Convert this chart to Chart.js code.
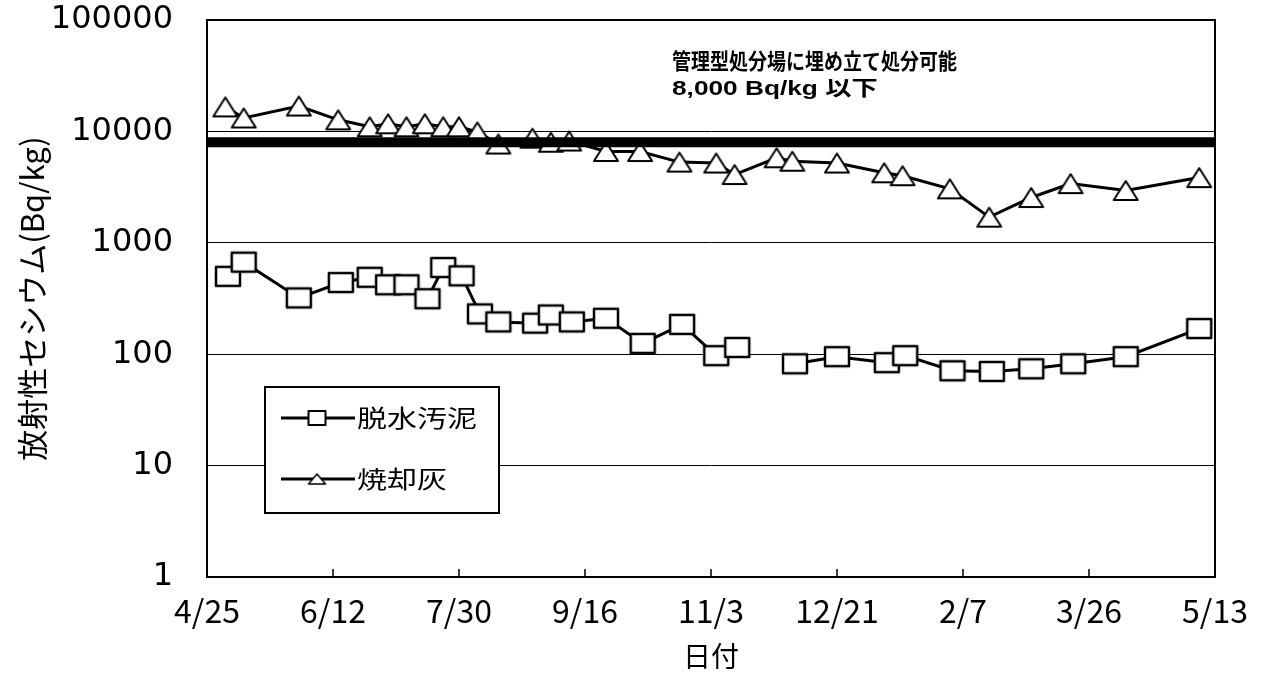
<!DOCTYPE html>
<html>
<head>
<meta charset="utf-8">
<script src="https://cdn.jsdelivr.net/npm/chart.js@4.4.1/dist/chart.umd.min.js"></script>
<style>
  html, body { margin: 0; padding: 0; background: #fff; }
  #wrap { width: 1263px; height: 677px; position: relative; }
</style>
</head>
<body>
<div id="wrap"><canvas id="chart"></canvas></div>
<script>
// x = days since 4/25
const tickDays = [0, 48, 96, 144, 192, 240, 288, 336, 384];
const tickLabels = ['4/25', '6/12', '7/30', '9/16', '11/3', '12/21', '2/7', '3/26', '5/13'];
const yTicks = [1, 10, 100, 1000, 10000, 100000];

// 脱水汚泥 (null = no measurement, line broken)
const sludgeDays = [8, 14, 35, 51, 62, 69, 76, 84, 90, 97, 104, 111, 125, 131, 139, 152, 166, 181, 194, 202, 213, 224, 240, 259, 266, 284, 299, 314, 330, 350, 378];
const sludgeValues = [500, 670, 320, 440, 490, 420, 420, 315, 600, 505, 230, 195, 190, 225, 195, 210, 125, 185, 97, 115, null, 82, 95, 84, 97, 71, 70, 74, 82, 95, 170];

// 焼却灰
const ashDays = [7, 14, 35, 50, 62, 69, 76, 83, 90, 96, 103, 111, 124, 131, 138, 152, 165, 180, 194, 201, 217, 223, 240, 258, 265, 283, 298, 314, 329, 350, 378];
const ashValues = [16600, 13200, 16900, 12700, 11000, 11700, 11000, 11700, 11000, 11000, 9900, 7700, 8700, 8000, 8200, 6600, 6600, 5300, 5200, 4100, 5800, 5400, 5200, 4250, 4000, 3050, 1700, 2550, 3400, 2950, 3850];

// 8,000 Bq/kg limit
const limitDays = [0, 384];
const limitValues = [8000, 8000];
const noteLines = ['管理型処分場に埋め立て処分可能', '8,000 Bq/kg 以下'];

const JP = '"Noto Sans CJK JP", sans-serif';

function makeMarker(shape, w, h, lw) {
    const pad = Math.ceil(lw) + 1;
    const c = document.createElement('canvas');
    c.width = w + pad * 2;
    c.height = h + pad * 2;
    const g = c.getContext('2d');
    g.fillStyle = '#fff';
    g.strokeStyle = '#000';
    g.lineWidth = lw;
    g.lineJoin = 'round';
    g.beginPath();
    if (shape === 'rect') {
        g.rect(pad, pad, w, h);
    } else {
        g.moveTo(pad + w / 2, pad);
        g.lineTo(pad + w, pad + h);
        g.lineTo(pad, pad + h);
        g.closePath();
    }
    g.fill();
    g.stroke();
    return c;
}

const squareMark = makeMarker('rect', 24, 19, 2.5);
const triangleMark = makeMarker('tri', 24, 19, 2);
const squareSmall = makeMarker('rect', 17, 14, 2);
const triangleSmall = makeMarker('tri', 17, 10, 1.5);

function toPoints(xs, ys) {
    return xs.map((x, i) => ({ x: x, y: ys[i] }));
}

// frame, inward ticks, note text and boxed legend
const decorPlugin = {
    id: 'decor',
    afterDraw(chart) {
        const { ctx, chartArea: a, scales } = chart;
        ctx.save();
        ctx.strokeStyle = '#000';
        ctx.lineWidth = 2;
        ctx.strokeRect(a.left, a.top, a.right - a.left, a.bottom - a.top);

        ctx.lineWidth = 1.5;
        tickDays.forEach(d => {
            const x = scales.x.getPixelForValue(d);
            ctx.beginPath();
            ctx.moveTo(x, a.bottom);
            ctx.lineTo(x, a.bottom - 8);
            ctx.stroke();
        });

        ctx.fillStyle = '#000';
        ctx.textBaseline = 'middle';
        ctx.textAlign = 'left';
        // line 1: all kanji/kana, line 2: wide latin text
        ctx.save();
        ctx.translate(672, 61);
        ctx.scale(1, 1.15);
        ctx.font = 'bold 19px ' + JP;
        ctx.fillText(noteLines[0], 0, 0);
        ctx.restore();
        ctx.save();
        ctx.translate(672, 89);
        ctx.scale(1.25, 1);
        ctx.font = 'bold 21px "Liberation Sans", ' + JP;
        ctx.fillText(noteLines[1], 0, 0);
        ctx.restore();

        // legend box
        const bx = 265, by = 387, bw = 234, bh = 126;
        ctx.fillStyle = '#fff';
        ctx.fillRect(bx, by, bw, bh);
        ctx.lineWidth = 2;
        ctx.strokeRect(bx, by, bw, bh);
        const items = chart.data.datasets.filter(ds => ds.inLegend);
        items.forEach((ds, i) => {
            const y = by + 31 + i * 61;
            ctx.lineWidth = 3;
            ctx.beginPath();
            ctx.moveTo(bx + 16, y);
            ctx.lineTo(bx + 90, y);
            ctx.stroke();
            const m = ds.legendMark;
            ctx.drawImage(m, bx + 52 - m.width / 2, y - m.height / 2);
            ctx.save();
            ctx.translate(bx + 92, y);
            ctx.scale(1.25, 1);
            ctx.fillStyle = '#000';
            ctx.font = '24px ' + JP;
            ctx.textBaseline = 'middle';
            ctx.fillText(ds.label, 0, 0);
            ctx.restore();
        });
        ctx.restore();
    }
};

const ctx = document.getElementById('chart').getContext('2d');
new Chart(ctx, {
    type: 'line',
    data: {
        datasets: [
            {
                label: '8,000 Bq/kg',
                data: toPoints(limitDays, limitValues),
                borderColor: '#000',
                borderWidth: 10,
                pointRadius: 0,
                inLegend: false
            },
            {
                label: '脱水汚泥',
                data: toPoints(sludgeDays, sludgeValues),
                borderColor: '#000',
                borderWidth: 3,
                pointStyle: squareMark,
                pointRadius: 12,
                spanGaps: false,
                inLegend: true,
                legendMark: squareSmall
            },
            {
                label: '焼却灰',
                data: toPoints(ashDays, ashValues),
                borderColor: '#000',
                borderWidth: 3,
                pointStyle: triangleMark,
                pointRadius: 12,
                inLegend: true,
                legendMark: triangleSmall
            }
        ]
    },
    options: {
        responsive: true,
        maintainAspectRatio: false,
        animation: false,
        layout: { padding: { top: 20, right: 48, bottom: 0, left: 0 } },
        plugins: {
            legend: { display: false },
            tooltip: { enabled: false }
        },
        scales: {
            x: {
                type: 'linear',
                min: 0,
                max: 384,
                afterBuildTicks: scale => {
                    scale.ticks = tickDays.map(v => ({ value: v }));
                },
                afterFit: scale => {
                    scale.height = 100;
                    scale.paddingLeft = 0;
                    scale.paddingRight = 0;
                },
                grid: { display: false, drawTicks: false },
                border: { display: true, color: '#000', width: 2 },
                ticks: {
                    autoSkip: false,
                    maxRotation: 0,
                    padding: 15,
                    color: '#000',
                    font: { family: JP, size: 32 },
                    callback: value => tickLabels[tickDays.indexOf(value)]
                },
                title: {
                    display: true,
                    text: '日付',
                    color: '#000',
                    font: { family: JP, size: 28 },
                    padding: { top: 0, bottom: 4 }
                }
            },
            y: {
                type: 'logarithmic',
                min: 1,
                max: 100000,
                afterBuildTicks: scale => {
                    scale.ticks = yTicks.map(v => ({ value: v }));
                },
                afterFit: scale => {
                    scale.width = 207;
                    scale.paddingTop = 0;
                    scale.paddingBottom = 0;
                },
                grid: { color: '#000', lineWidth: 1, drawTicks: false },
                border: { display: true, color: '#000', width: 2 },
                ticks: {
                    padding: 34,
                    color: '#000',
                    font: { family: '"DejaVu Sans", sans-serif', size: 32 },
                    callback: value => String(value)
                },
                title: {
                    display: true,
                    text: '放射性セシウム(Bq/kg)',
                    color: '#000',
                    font: { family: JP, size: 31 },
                    padding: { top: 14, bottom: 0 }
                }
            }
        }
    },
    plugins: [decorPlugin]
});
</script>
</body>
</html>
